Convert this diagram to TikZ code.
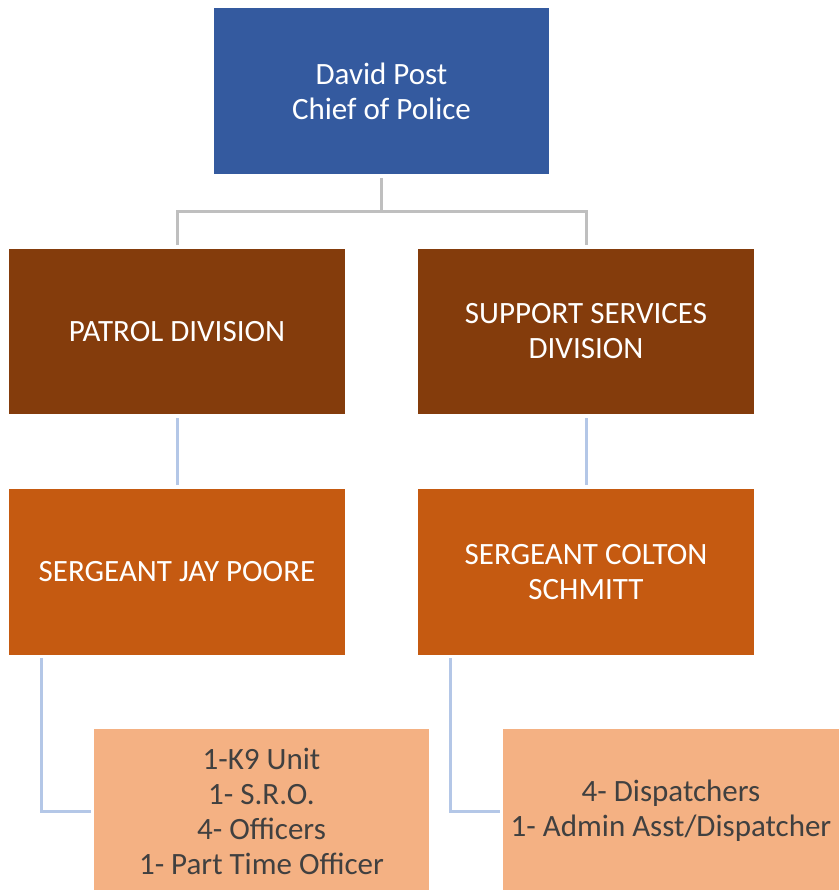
\documentclass[tikz,border=0pt]{standalone}
\usepackage{fontspec}
\setmainfont{Carlito}
\usetikzlibrary{calc}
\definecolor{chiefblue}{HTML}{345A9F}
\definecolor{divbrown}{HTML}{843C0C}
\definecolor{sgtorange}{HTML}{C55A11}
\definecolor{unitpeach}{HTML}{F4B183}
\definecolor{linegray}{HTML}{BFBFBF}
\definecolor{lineblue}{HTML}{B4C7E7}
\definecolor{textgray}{HTML}{404040}
\tikzset{
  orgbox/.style={rectangle, inner sep=0pt, align=center, minimum width=336pt, minimum height=165pt,
    font=\fontsize{31}{35}\selectfont},
  chiefbox/.style={orgbox, fill=chiefblue, text=white, minimum width=335pt, minimum height=166pt},
  divbox/.style={orgbox, fill=divbrown, text=white},
  sgtbox/.style={orgbox, fill=sgtorange, text=white, minimum height=166pt},
  unitbox/.style={orgbox, fill=unitpeach, text=textgray, minimum height=164pt},
  grayline/.style={draw=linegray, line width=3pt},
  blueline/.style={draw=lineblue, line width=3pt}
}
\begin{document}
\begin{tikzpicture}[x=1pt,y=-1pt]
\useasboundingbox (0,0) rectangle (839,890);
\node[chiefbox] (chief) at (381.5,91) {David Post\\Chief of Police};
\node[divbox] (patrol) at (177,331.5) {PATROL DIVISION};
\node[divbox] (support) at (586,331.5) {SUPPORT SERVICES\\DIVISION};
\node[sgtbox] (sgtl) at (177,572) {SERGEANT JAY POORE};
\node[sgtbox] (sgtr) at (586,572) {SERGEANT COLTON\\SCHMITT};
\node[unitbox, minimum width=335pt] (unitl) at (261.5,811) {1-K9 Unit\\1- S.R.O.\\4- Officers\\1- Part Time Officer};
\node[unitbox] (unitr) at (671,811) {4- Dispatchers\\1- Admin Asst/Dispatcher};
\coordinate (fork) at ($(chief.south)+(0,37)$);
\draw[grayline, shorten <=4pt] (chief.south) -- (fork);
\draw[grayline, shorten >=4pt] (fork) -| (patrol.north);
\draw[grayline, shorten >=4pt] (fork) -| (support.north);
\draw[blueline, shorten <=4pt, shorten >=4pt] (patrol.south) -- (sgtl.north);
\draw[blueline, shorten <=4pt, shorten >=4pt] (support.south) -- (sgtr.north);
\draw[blueline, shorten <=3pt, shorten >=3pt] ($(sgtl.south west)+(33,0)$) |- (unitl.west);
\draw[blueline, shorten <=3pt, shorten >=3pt] ($(sgtr.south west)+(33,0)$) |- (unitr.west);
\end{tikzpicture}
\end{document}
